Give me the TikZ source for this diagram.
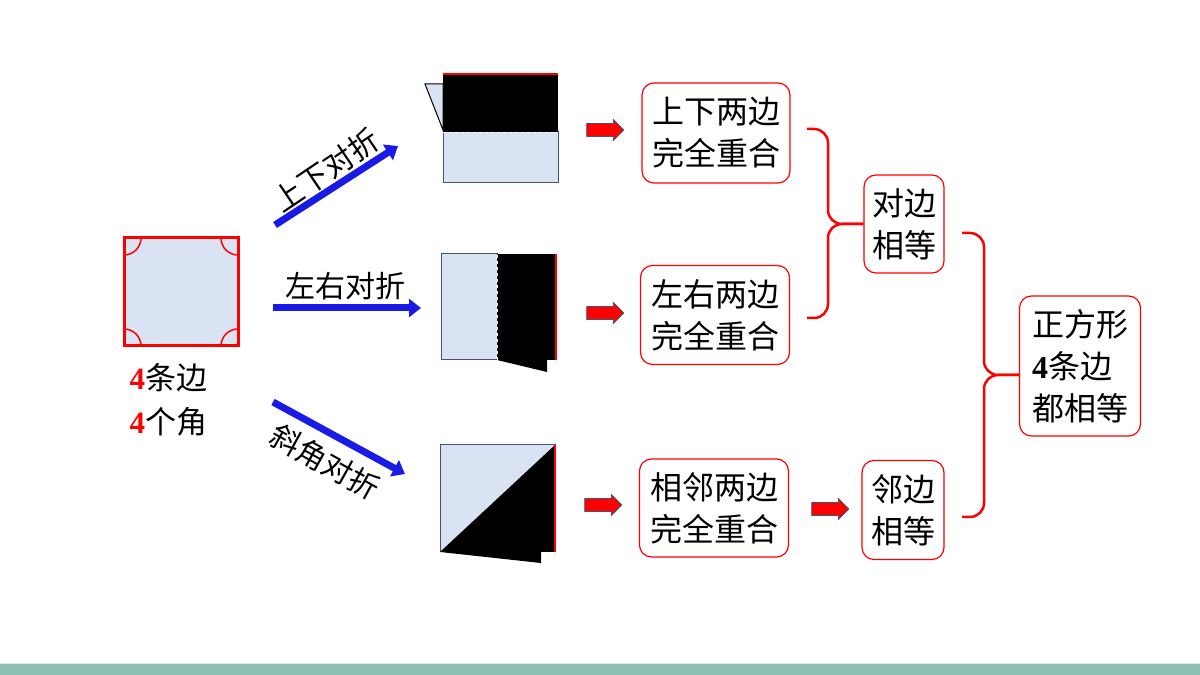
\documentclass[tikz,border=0pt]{standalone}
\usepackage{fontspec}
\setmainfont{Noto Sans CJK SC}
\newfontfamily\numfont{Liberation Serif}
\usepackage{tikz}
\usetikzlibrary{ shapes.arrows }
\usetikzlibrary{ arrows.meta }
\usetikzlibrary{calc}
\definecolor{paleblue}{HTML}{DAE3F3}
\definecolor{edgegray}{HTML}{44546A}
\definecolor{barteal}{HTML}{8BBFB4}
\definecolor{foldblue}{HTML}{1A1AE6}

\begin{document}
\begin{tikzpicture}[x=1pt,y=1pt,
        box/.style={draw=red, line width=1.2pt, rounded corners=12pt, inner sep=0pt,
            font=\fontsize{32}{42}\selectfont, align=center},
        redarrow/.style={single arrow, draw=edgegray, fill=red, line width=0.8pt,
            minimum height=37pt, minimum width=20pt, single arrow head extend=4pt,
            inner xsep=0pt, inner ysep=6pt},
        foldarrow/.style={draw=foldblue, line width=7pt, -{Triangle[length=12pt,width=18pt]}},
        brace/.style={draw=red, line width=2.5pt, rounded corners=14pt},
        foldtext/.style={font=\fontsize{30}{32}\selectfont}]
        \useasboundingbox (0,0) rectangle (1200,675);
        \fill[barteal] (0,0) rectangle (1200,11);
        \draw[white!75!barteal, line width=1pt] (0,11.5) -- (1200,11.5);

        % the square
        \node[draw=red, line width=3pt, fill=paleblue, outer sep=0pt,
            minimum width=114pt, minimum height=108pt] (sq) at (181,383) {};
        \draw[red, line width=1.5pt] (sq.north west) ++(17,0) arc (0:-90:17);
        \draw[red, line width=1.5pt] (sq.north east) ++(-17,0) arc (180:270:17);
        \draw[red, line width=1.5pt] (sq.south west) ++(17,0) arc (0:90:17);
        \draw[red, line width=1.5pt] (sq.south east) ++(-17,0) arc (180:90:17);
        \node[anchor=west, font=\fontsize{31}{32}\selectfont] (sides) at (126,297)
            {{\numfont\bfseries\color{red}4}条边};
        \node[anchor=west, font=\fontsize{31}{32}\selectfont] (corners) at (126,253)
            {{\numfont\bfseries\color{red}4}个角};

        % three ways of folding
        \coordinate (t1) at (275,450);
        \coordinate (h1) at (398,529);
        \coordinate (t2) at (273,367);
        \coordinate (h2) at (421,367);
        \coordinate (t3) at (273,273);
        \coordinate (h3) at (405,201);
        \draw[foldarrow] (t1) -- (h1);
        \draw[foldarrow] (t2) -- (h2);
        \draw[foldarrow] (t3) -- (h3);
        \node[foldtext, rotate=34] (fold1) at (326,505) {上下对折};
        \node[foldtext] (fold2) at (345,389) {左右对折};
        \node[foldtext, rotate=-29] (fold3) at (325,213) {斜角对折};

        % top and bottom folded
        \filldraw[fill=paleblue, draw=edgegray, line width=1pt] (443,492) rectangle (558,543);
        \fill[black] (443,543) rectangle (558,600);
        \filldraw[fill=paleblue, draw=black, line width=1pt] (425,591) -- (443,591) -- (443,545) -- cycle;
        \draw[white, dashed, line width=0.8pt] (443,543) -- (558,543);
        \draw[red, line width=2.5pt] (443,601) -- (558,601);
        % left and right folded
        \filldraw[fill=paleblue, draw=edgegray, line width=1pt] (441,315) rectangle (497,421);
        \fill[black] (497,315) rectangle (557,421);
        \fill[black] (497,315) -- (547,303) -- (547,315) -- cycle;
        \draw[white, dashed, line width=0.8pt] (497,315) -- (497,421);
        \draw[red, line width=2.5pt] (556,315) -- (556,421);
        % corner to corner folded
        \filldraw[fill=paleblue, draw=edgegray, line width=1pt] (440,123) rectangle (555,230);
        \fill[black] (440,123) -- (555,230) -- (555,123) -- cycle;
        \fill[black] (440,123) -- (541,112) -- (541,123) -- cycle;
        \draw[red, line width=2.5pt] (555,123) -- (555,230);

        % what the folds show
        \node[redarrow] (ra1) at (602,545) {};
        \node[redarrow] (ra2) at (602,362) {};
        \node[redarrow] (ra3) at (600,170) {};
        \node[redarrow] (ra4) at (827,166) {};
        \node[box, minimum width=148pt, minimum height=100pt] (updown) at (716,542) {上下两边\\完全重合};
        \node[box, minimum width=149pt, minimum height=99pt] (leftright) at (715,360) {左右两边\\完全重合};
        \node[box, minimum width=149pt, minimum height=98pt] (adjfold) at (714,167) {相邻两边\\完全重合};
        \node[box, minimum width=80pt, minimum height=98pt] (opposite) at (904,451) {对边\\相等};
        \node[box, minimum width=82pt, minimum height=99pt] (adjacent) at (903,165) {邻边\\相等};
        \node[box, align=left, minimum width=121pt, minimum height=140pt] (square) at (1080,309)
            {正方形\\{\numfont\bfseries 4}条边\\都相等};

        % braces
        \coordinate (br1a) at (807,546);
        \coordinate (br1b) at (807,357);
        \coordinate (br2a) at (962,442);
        \coordinate (br2b) at (962,158);
        \coordinate (br2tip) at ($(square.west)+(0,-9)$);
        \draw[brace] (br1a) -- (828,546) -- (828,451) -- (opposite.west);
        \draw[brace] (br1b) -- (828,357) -- (828,451) -- (opposite.west);
        \draw[brace] (br2a) -- (984,442) -- (984,300) -- (br2tip);
        \draw[brace] (br2b) -- (984,158) -- (984,300) -- (br2tip);
\end{tikzpicture}
\end{document}
